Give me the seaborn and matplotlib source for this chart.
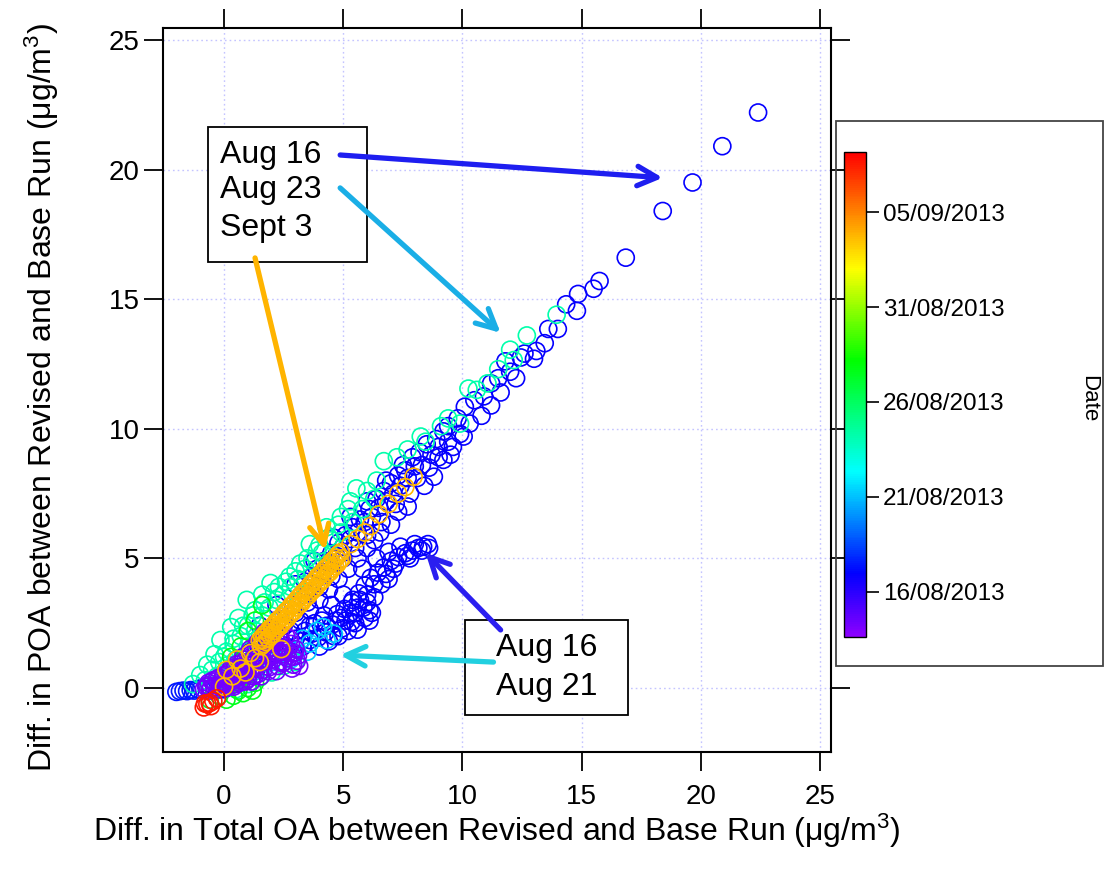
import matplotlib
matplotlib.use("Agg")
import matplotlib.pyplot as plt
import matplotlib.dates as mdates
from matplotlib.colors import LinearSegmentedColormap, Normalize
from matplotlib.cm import ScalarMappable
from matplotlib.patches import Rectangle
import pandas as pd
import seaborn as sns

# ---------------------------------------------------------------------------
# Differences (revised - base run) in total OA and POA, grouped by sampling day
# ---------------------------------------------------------------------------
aug14_date = "2013-08-14 06:00"
aug14_oa = [-0.85, -0.7, -0.6, -0.5, -0.4, -0.3, -0.25, -0.15, -0.05, 0.05, 0.1, 0.2,
            0.3, 0.35, 0.45, 0.5, 0.6, 0.7, 0.75, 0.85, 0.9, 1.0, 1.05, 1.15, 1.2, 1.3,
            1.35, 1.45, 1.5, 1.6, 1.65, 1.75, 1.8, 1.9, 2.0, 2.05, 2.15, 2.2, 2.3, 2.4,
            2.45, 2.55, 2.6, 2.7, 2.8, 2.85, 2.95, 3.05, 0.0, 0.4, 0.8, 1.1, 1.4, 1.7,
            2.1, 2.5, 2.9, 0.6, 1.2, 1.9, 2.3, 0.9,
            -0.75, -0.65, -0.55, -0.45, -0.35, -0.2, -0.1, 0.0, 0.15, 0.25, 0.4, 0.5,
            0.55, 0.65, 0.8, 0.95, 1.1, 1.15, 1.25, 1.4, 1.55, 1.6, 1.7, 1.85, 1.95,
            2.1, 2.25, 2.35, 2.5, 2.65, 2.75, 2.9, 3.0, 3.1, 3.15, 2.0, 1.3, 0.3, 0.7, 1.0]
aug14_poa = [-0.05, 0.1, -0.1, 0.25, 0.0, 0.35, -0.05, 0.15, 0.45, 0.0, 0.3, 0.6,
             0.1, 0.4, 0.8, 0.15, 0.55, 0.95, 0.25, 0.7, 1.1, 0.35, 0.85, 1.3, 0.45, 1.0,
             1.6, 0.55, 1.25, 1.9, 0.7, 1.45, 2.1, 0.8, 1.55, 1.1, 1.95, 0.65, 1.35, 1.8,
             0.95, 1.55, 2.0, 1.15, 1.7, 0.75, 1.35, 1.05, 0.2, 0.3, 0.5, 0.6, 0.9, 1.0,
             1.3, 1.3, 1.2, 0.8, 1.1, 1.7, 1.0, 0.25,
             0.05, 0.2, 0.0, 0.3, 0.1, 0.4, 0.05, 0.5, 0.15, 0.7, 0.05, 0.9,
             0.4, 0.2, 1.2, 0.6, 1.5, 0.25, 0.75, 1.75, 0.45, 1.1, 2.15, 0.65, 1.25,
             1.75, 0.85, 2.05, 1.0, 1.45, 1.9, 0.9, 1.5, 1.25, 0.85, 2.2, 0.5, 0.3, 0.6, 1.0]

aug16_date = "2013-08-16 20:00"
aug16_oa = [22.4, 20.9, 19.65, 18.4, 16.85, 15.75, 15.5, 14.85, 14.8, 14.35, 14.0, 13.6,
            13.45, 13.1, 12.6, 12.45, 12.25, 11.8, 11.5, 11.2, 10.9, 10.5, 11.2, 10.1,
            9.8, 9.4, 10.05, 9.9, 9.6, 9.2, 8.8, 8.4, 7.7, 8.7, 9.0, 8.3, 8.0, 7.7,
            7.4, 7.1, 6.8, 6.5, 6.2, 5.9, 5.6, 5.3, 5.0, 4.7, 4.4, 4.1, 3.8, 3.5,
            3.2, 2.9, 2.6, 2.3, 2.0, 1.7, 1.4, 1.1, 0.8, 0.5, 0.2, -0.1,
            6.55, 6.3, 7.0, 7.3, 6.0, 5.6, 5.2, 4.8, 4.4, 4.0, 3.6, 3.2, 2.8, 2.4,
            9.5, 10.3, 10.8, 11.6, 12.0, 13.0,
            1.5, 2.2, 3.0, 3.8, 4.6, 5.3, 6.0, 6.8, 7.5,
            8.55, 8.35, 8.15, 7.9, 7.6, 7.3, 7.0, 6.7, 6.45, 6.15, 5.9, 5.65, 5.35,
            5.05, 4.75, 6.1, 5.6, 5.85, 5.35, 4.95, 4.55, 4.25, 3.95, 3.6, 3.3, 2.9,
            5.8, 6.4, 6.9, 7.4, 8.0, 8.6, 6.3, 6.0, 5.5, 5.1, 4.6, 6.2, 5.7, 5.0,
            4.5, 4.2, 3.8, 3.4, 3.0, 2.6, 2.2, 1.8, 1.4, 1.0, 0.6, 0.2, -0.2, 6.6,
            7.1, 7.8, 6.9,
            3.4, 3.7, 3.9, 4.2, 4.5, 4.8, 5.1, 5.4, 5.7, 6.1, 6.4, 6.7, 7.0, 7.3,
            7.6, 7.9, 8.2, 8.5, 8.9, 9.2, 5.0, 5.5, 6.0, 6.6, 7.2, 7.8, 8.1, 8.6,
            9.0, 9.4, 4.5, 4.0, 3.5, 3.0, 2.5, 2.0, 1.5, 1.0, 0.5, 0.0,
            4.0, 4.4, 4.8, 5.2, 5.5, 5.9, 6.1, 5.3, 4.7, 4.3, 3.7, 3.2, 2.7, 6.0,
            6.3, 5.6, 4.9, 7.2, 7.7, 8.3, 6.8, 5.4, 4.1, 3.6]
aug16_poa = [22.2, 20.9, 19.5, 18.4, 16.6, 15.7, 15.4, 15.2, 14.55, 14.8, 13.85, 13.85,
             13.3, 13.0, 12.9, 12.75, 11.95, 12.6, 11.95, 11.75, 11.25, 11.1, 10.9, 10.85,
             10.4, 10.1, 9.7, 9.8, 9.3, 8.8, 8.15, 7.8, 7.0, 9.0, 9.3, 8.6, 8.55, 8.1,
             7.8, 7.5, 7.2, 6.95, 6.6, 6.4, 6.0, 5.75, 5.45, 5.1, 4.85, 4.45, 4.15, 3.85,
             3.55, 3.2, 2.95, 2.65, 2.3, 2.0, 1.7, 1.4, 1.1, 0.75, 0.45, 0.2,
             6.0, 5.7, 6.3, 6.8, 5.4, 5.0, 4.6, 4.2, 3.8, 3.4, 3.0, 2.6, 2.2, 1.8,
             9.0, 10.2, 10.5, 11.4, 12.2, 12.7,
             2.4, 3.2, 4.0, 4.9, 5.8, 6.6, 7.2, 8.0, 8.6,
             5.55, 5.45, 5.4, 5.3, 5.2, 5.05, 4.9, 4.65, 4.45, 4.25, 3.95, 3.65, 3.3,
             3.05, 2.85, 2.6, 2.25, 3.1, 2.55, 2.3, 2.45, 2.15, 1.95, 1.85, 1.6, 1.35,
             4.6, 5.0, 5.25, 5.45, 5.55, 5.4, 3.5, 3.3, 2.9, 2.6, 2.0, 2.9, 3.4, 3.6,
             3.2, 2.8, 2.5, 2.2, 1.9, 1.6, 1.3, 1.1, 0.8, 0.5, 0.3, 0.1, -0.05, 4.0,
             4.6, 5.0, 4.2,
             4.1, 4.3, 4.6, 4.9, 5.2, 5.6, 5.9, 6.2, 6.5, 6.9, 7.3, 7.6, 7.9, 8.2,
             8.4, 8.9, 9.1, 9.4, 9.6, 9.9, 5.0, 5.4, 5.9, 6.4, 7.1, 7.5, 8.1, 8.5,
             8.9, 9.5, 4.3, 3.9, 3.3, 2.9, 2.4, 1.9, 1.4, 0.9, 0.4, -0.05,
             1.6, 1.8, 2.0, 2.2, 2.5, 2.7, 3.0, 2.9, 2.6, 2.4, 2.1, 1.8, 1.5, 3.6,
             4.0, 3.1, 2.7, 4.8, 5.1, 5.3, 4.4, 3.4, 2.6, 2.4]

aug17_date = "2013-08-17 12:00"
aug17_oa = [-2.0, -1.85, -1.7, -1.55, -1.4, -1.25, -1.1, -0.95]
aug17_poa = [-0.15, -0.12, -0.1, -0.12, -0.08, -0.1, -0.05, 0.0]

aug21_date = "2013-08-21 06:00"
aug21_oa = [3.05, 3.6, 4.3, 4.15, 2.5, 3.3, 3.9, 2.0, 1.6, 1.2, 4.6, 2.8, 3.5, 0.8,
            0.4, 1.9, 2.3]
aug21_poa = [1.47, 1.72, 1.85, 2.35, 1.35, 1.9, 2.2, 1.0, 0.8, 0.6, 2.1, 1.1, 1.4, 0.4,
             0.2, 1.5, 1.7]

aug23_date = "2013-08-24 06:00"
aug23_oa = [-1.3, -1.0, -0.7, -0.4, -0.15, 0.3, 0.6, 0.95, 1.3, 1.6, 1.95, 2.3, 2.75,
            3.2, 3.6, 4.0, 4.3, 4.8, 5.2, 5.55, 6.0, 6.4, 6.7, 7.25, 7.7, 8.25, 8.45,
            9.1, 9.4, 9.9, 10.25, 10.6, 11.05, 12.0, 12.15, 12.7, 13.95, 11.5,
            -0.8, -0.5, -0.2, 0.1, 0.4, 0.7, 1.0, 1.3, 1.6, 1.9, 2.2, 2.5, 2.8, 3.1,
            3.4, 3.7, 4.1, 4.5, 4.9, 5.4, 5.8, 6.3, 0.0, 0.5, 1.0, 1.5, -0.3, 0.2,
            0.5, 1.0, 1.5, 2.0, 2.5, 3.0, 0.2,
            0.0, 0.4, 0.8, 1.2, 1.7, 2.1, 2.6, 3.0, 3.5, 3.9, 4.4, 4.9, 5.3]
aug23_poa = [0.15, 0.5, 0.9, 1.3, 1.85, 2.35, 2.7, 3.4, 3.0, 3.6, 4.05, 3.9, 4.3,
             4.8, 5.55, 5.5, 6.2, 6.3, 6.9, 7.7, 7.6, 8.0, 8.75, 8.9, 9.2, 9.7, 9.5,
             10.1, 10.4, 10.2, 11.55, 11.5, 11.75, 13.05, 12.65, 13.6, 14.4, 12.3,
             0.3, 0.7, 1.0, 1.4, 1.7, 2.0, 2.4, 2.2, 2.8, 3.1, 3.4, 3.6, 3.9, 4.2,
             4.6, 4.9, 5.2, 5.7, 6.0, 6.4, 6.9, 7.3, 0.6, 1.1, 1.6, 2.0, 0.45, 0.9,
             -0.05, 0.15, 0.4, 0.6, 0.85, 1.0, 0.15,
             1.2, 1.9, 2.4, 2.8, 3.3, 3.7, 4.1, 4.5, 5.0, 5.3, 5.8, 6.6, 7.2]

aug27_date = "2013-08-27 12:00"
aug27_oa = [0.8, -0.6, 0.1, 0.4, 1.0, 0.6, 1.3, 0.7, 1.0, 1.6, 0.3, 1.3, -0.2, 1.2]
aug27_poa = [-0.2, -0.45, -0.45, -0.3, 0.0, -0.1, 0.2, 1.6, 2.2, 3.2, 1.2, 2.6, -0.3, -0.1]

sep03_date = "2013-09-03 18:00"
sep03_oa = [1.5, 1.6, 1.7, 1.8, 1.9, 2.0, 2.1, 2.2,
            2.3, 2.4, 2.5, 2.6, 2.7, 2.8, 2.9, 3.0, 3.1, 3.2, 3.3, 3.4, 3.5, 3.6, 3.7,
            3.8, 3.9, 4.0, 4.1, 4.2, 4.3, 4.4, 4.5, 4.6, 4.7, 4.8, 4.9,
            1.55, 1.65, 1.75, 1.85, 1.95, 2.05,
            2.15, 2.25, 2.35, 2.45, 2.55, 2.65, 2.75, 2.85, 2.95, 3.05, 3.15, 3.25,
            3.35, 3.45, 3.55, 3.65, 3.75, 3.85, 3.95, 4.05, 4.15, 4.25, 4.35, 4.45,
            4.55, 4.65, 4.75, 4.85, 4.95,
            5.3, 5.6, 5.9, 6.15, 6.5, 6.9, 7.3, 7.6, 7.95,
            1.1, 0.55, 0.1, 0.0, 2.05, 2.35, 1.65, 0.9, 1.5, 2.4, 0.35, 0.7, 1.3]
sep03_poa = [1.84, 1.95, 2.06, 2.14, 2.27, 2.35,
             2.44, 2.57, 2.65, 2.73, 2.86, 2.95, 3.03, 3.16, 3.24, 3.35, 3.46, 3.54,
             3.67, 3.75, 3.83, 3.96, 4.05, 4.14, 4.27, 4.35, 4.43, 4.56, 4.65, 4.73,
             4.86, 4.95, 5.03, 5.16, 5.24,
             1.61, 1.7, 1.78, 1.91, 2.0, 2.08,
             2.21, 2.3, 2.38, 2.51, 2.6, 2.68, 2.81, 2.9, 2.98, 3.11, 3.2, 3.28,
             3.41, 3.5, 3.58, 3.71, 3.8, 3.88, 4.01, 4.1, 4.18, 4.31, 4.4, 4.48,
             4.61, 4.7, 4.78, 4.91, 5.0,
             5.55, 5.75, 6.0, 6.25, 6.7, 7.1, 7.5, 7.75, 8.15,
             1.35, 1.1, 0.7, 0.05, 2.35, 2.45, 1.85, 0.6, 1.0, 1.5, 0.45, 0.75, 1.15]

sep07_date = "2013-09-07 12:00"
sep07_oa = [-0.85, -0.7, -0.6, -0.45, -0.3, -0.8, -0.55]
sep07_poa = [-0.75, -0.62, -0.58, -0.5, -0.4, -0.6, -0.7]

# colour scale of the date axis
date_min = "2013-08-13 15:00"
date_max = "2013-09-08 04:00"
date_ticks = ["2013-08-16", "2013-08-21", "2013-08-26", "2013-08-31", "2013-09-05"]

x_ticks = [0, 5, 10, 15, 20, 25]
y_ticks = [0, 5, 10, 15, 20, 25]

# ---------------------------------------------------------------------------
# drawing order (later entries on top)
groups = [
    (aug16_date, aug16_oa, aug16_poa),
    (aug17_date, aug17_oa, aug17_poa),
    (aug21_date, aug21_oa, aug21_poa),
    (aug23_date, aug23_oa, aug23_poa),
    (aug27_date, aug27_oa, aug27_poa),
    (aug14_date, aug14_oa, aug14_poa),
    (sep03_date, sep03_oa, sep03_poa),
    (sep07_date, sep07_oa, sep07_poa),
]
frames = []
for d, xs, ys in groups:
    frames.append(pd.DataFrame({"oa": xs, "poa": ys,
                                "date": mdates.date2num(pd.Timestamp(d))}))
df = pd.concat(frames, ignore_index=True)

sns.set_style("white")
plt.rcParams["font.family"] = ["Liberation Sans", "DejaVu Sans"]
plt.rcParams["mathtext.fontset"] = "custom"
plt.rcParams["mathtext.rm"] = "Liberation Sans"
plt.rcParams["mathtext.it"] = "Liberation Sans:italic"
for key in ["text.color", "axes.labelcolor", "xtick.color", "ytick.color"]:
    plt.rcParams[key] = "black"

cmap = LinearSegmentedColormap.from_list(
    "igor_rainbow",
    [(0.00, (0.55, 0.0, 1.0)),
     (0.13, (0.0, 0.0, 1.0)),
     (0.34, (0.0, 1.0, 1.0)),
     (0.57, (0.0, 1.0, 0.0)),
     (0.76, (1.0, 1.0, 0.0)),
     (1.00, (1.0, 0.0, 0.0))])
norm = Normalize(mdates.date2num(pd.Timestamp(date_min)),
                 mdates.date2num(pd.Timestamp(date_max)))

fig = plt.figure(figsize=(11.06, 8.77), dpi=100)
ax = fig.add_axes([0.1474, 0.1425, 0.604, 0.8256])

sns.scatterplot(data=df, x="oa", y="poa", hue="date", palette=cmap, hue_norm=norm,
                s=150, legend=False, ax=ax, zorder=3)
pts = ax.collections[-1]
edge = pts.get_facecolors()
pts.set_edgecolors(edge)
pts.set_facecolors("none")
pts.set_linewidths(1.2)

ax.set_xlim(-2.56, 25.46)
ax.set_ylim(-2.47, 25.46)
ax.set_xticks(x_ticks)
ax.set_yticks(y_ticks)
ax.grid(True, color="#c4c4ff", linestyle=(0, (1.2, 2.2)), linewidth=1.0)
ax.set_axisbelow(True)
for s in ax.spines.values():
    s.set_visible(True)
    s.set_color("black")
    s.set_linewidth(1.5)
ax.tick_params(direction="out", length=14, width=1.3, color="black",
               top=True, right=True, bottom=True, left=True,
               labeltop=False, labelright=False, labelsize=20)
ax.tick_params(axis="x", pad=9)
ax.tick_params(axis="y", pad=3)

ax.set_xlabel("Diff. in Total OA between Revised and Base Run (\u03bcg/m$^3$)", fontsize=23)
ax.set_ylabel("Diff. in POA between Revised and Base Run (\u03bcg/m$^3$)", fontsize=23)
ax.xaxis.set_label_coords(0.5, -0.082)
ax.yaxis.set_label_coords(-0.152, 0.49)

# annotation boxes
box_kw = dict(transform=ax.transAxes, facecolor="white", edgecolor="black",
              linewidth=1.3, zorder=5)
ax.add_patch(Rectangle((0.0674, 0.6768), 0.238, 0.1865, **box_kw))
ax.add_patch(Rectangle((0.4521, 0.0511), 0.244, 0.1312, **box_kw))
txt_kw = dict(transform=ax.transAxes, fontsize=23, va="center", ha="left", zorder=6)
ax.text(0.086, 0.8246, "Aug 16", **txt_kw)
ax.text(0.086, 0.7762, "Aug 23", **txt_kw)
ax.text(0.086, 0.7238, "Sept 3", **txt_kw)
ax.text(0.498, 0.1436, "Aug 16", **txt_kw)
ax.text(0.498, 0.0898, "Aug 21", **txt_kw)

arrows = [
    ((4.87, 20.56), (18.40, 19.68), "#1e1ef0"),
    ((4.87, 19.29), (11.60, 13.70), "#1aaee6"),
    ((1.30, 16.59), (4.24, 5.32), "#ffb400"),
    ((11.60, 2.24), (8.45, 5.21), "#2a1ef0"),
    ((11.30, 1.00), (4.87, 1.27), "#22d0e0"),
]
for start, tip, col in arrows:
    ax.annotate("", xy=tip, xytext=start, zorder=7,
                arrowprops=dict(arrowstyle="->,head_length=1.4,head_width=0.7",
                                color=col, lw=3.8, shrinkA=0, shrinkB=0))

# colour scale panel
fig.patches.append(Rectangle((0.7559, 0.2406), 0.2414, 0.6214, transform=fig.transFigure,
                             fill=False, edgecolor="#444444", linewidth=1.3, zorder=0))
cax = fig.add_axes([0.7631, 0.2737, 0.0199, 0.553])
cb = fig.colorbar(ScalarMappable(norm=norm, cmap=cmap), cax=cax)
cb.set_ticks([mdates.date2num(pd.Timestamp(t)) for t in date_ticks])
cb.set_ticklabels([pd.Timestamp(t).strftime("%d/%m/%Y") for t in date_ticks])
cb.outline.set_linewidth(1.0)
cb.outline.set_edgecolor("black")
cax.tick_params(length=9, width=1.2, labelsize=17.5, pad=3, color="black")
fig.text(0.984, 0.545, "Date", rotation=270, ha="center", va="center", fontsize=16)

fig.savefig("out.png", dpi=100)
